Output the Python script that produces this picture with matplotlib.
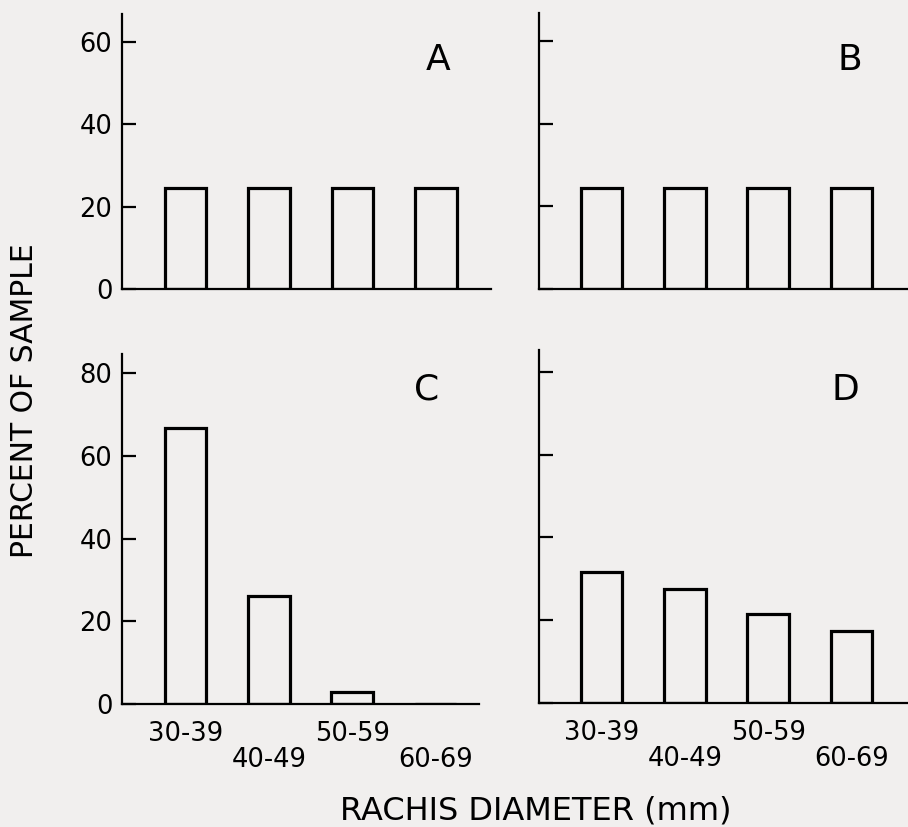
import matplotlib
matplotlib.use("Agg")
import matplotlib.pyplot as plt

# ---- data ----
categories = ["30-39", "40-49", "50-59", "60-69"]
panel_labels = ["A", "B", "C", "D"]
values_A = [24.6, 24.6, 24.6, 24.6]
values_B = [24.6, 24.6, 24.6, 24.6]
values_C = [66.7, 26.0, 2.8, 0.0]
values_D = [31.7, 27.6, 21.6, 17.5]
yticks_top = [0, 20, 40, 60]
yticks_bottom = [0, 20, 40, 60, 80]

W, H = 908, 827
BG = "#f1efee"
plt.rcParams["font.family"] = ["DejaVu Sans"]

fig = plt.figure(figsize=(W / 100, H / 100), dpi=100, facecolor=BG)


def axes_px(left, right, top, bottom):
    return fig.add_axes([left / W, 1 - bottom / H, (right - left) / W, (bottom - top) / H])


specs = [
    (values_A, "A", (122, 491, 14, 289), (-0.76, 3.66), (0, 66.7), yticks_top, True, False),
    (values_B, "B", (539, 908, 13, 289), (-0.75, 3.68), (0, 66.9), yticks_top, False, False),
    (values_C, "C", (122, 479, 354, 704), (-0.76, 3.52), (0, 84.6), yticks_bottom, True, True),
    (values_D, "D", (539, 908, 350, 703), (-0.75, 3.68), (0, 85.3), yticks_bottom, False, True),
]
letter_px = {"A": (438, 60), "B": (850, 60), "C": (427, 390), "D": (845, 390)}

for vals, lab, box, xl, yl, yt, showy, showx in specs:
    ax = axes_px(*box)
    ax.set_facecolor("none")
    pos = list(range(len(categories)))
    ax.bar(pos, vals, width=0.5, facecolor="none", edgecolor="black", linewidth=2.3, zorder=2)
    ax.set_xlim(*xl)
    ax.set_ylim(*yl)
    for s in ("top", "right"):
        ax.spines[s].set_visible(False)
    for s in ("left", "bottom"):
        ax.spines[s].set_linewidth(1.6)
    ax.set_yticks(yt)
    ax.tick_params(axis="y", direction="in", length=10, width=1.6, pad=7,
                   labelsize=18.5, labelleft=showy)
    ax.set_xticks(pos)
    if showx:
        ax.set_xticklabels(categories)
    else:
        ax.set_xticklabels([])
    ax.tick_params(axis="x", length=0, labelsize=18.5, pad=12)
    if showx:
        for i, t in enumerate(ax.xaxis.get_major_ticks()):
            if i % 2 == 1:
                t.set_pad(31)
    lx, ly = letter_px[lab]
    fig.text(lx / W, 1 - ly / H, lab, fontsize=26, ha="center", va="center")

fig.text(536 / W, 1 - 819 / H, "RACHIS DIAMETER (mm)", fontsize=23,
         ha="center", va="baseline")
fig.text(25 / W, 1 - 401 / H, "PERCENT OF SAMPLE", fontsize=21.5, rotation=90,
         ha="center", va="center")

fig.savefig("out.png", dpi=100, facecolor=BG)
